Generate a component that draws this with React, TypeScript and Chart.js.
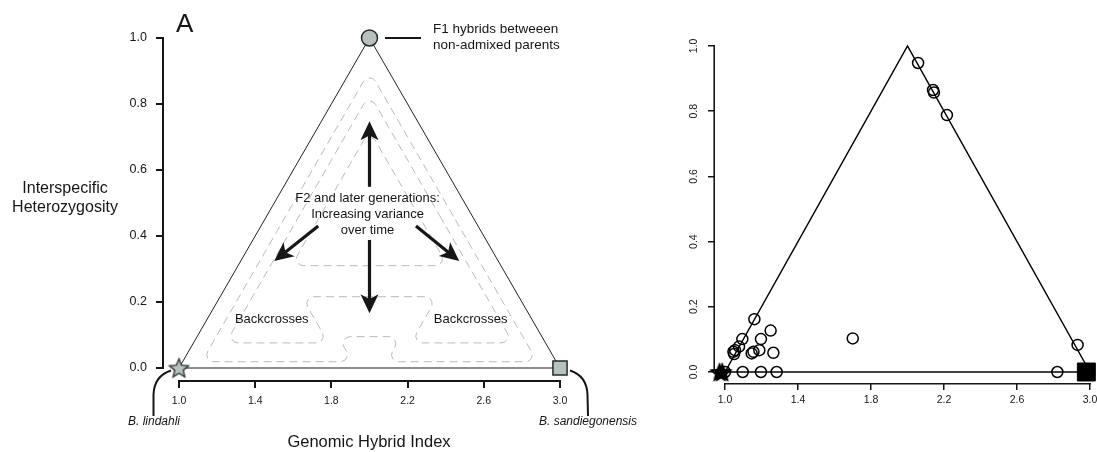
import React, { useEffect, useRef } from "react";
import { Chart, registerables } from "chart.js";

Chart.register(...registerables);

const FONT = "'Liberation Sans', Arial, Helvetica, sans-serif";
const INK = "#161616";

// ---------- shared axis ticks ----------
const X_TICKS = [1.0, 1.4, 1.8, 2.2, 2.6, 3.0];
const Y_TICKS = [0.0, 0.2, 0.4, 0.6, 0.8, 1.0];

// ---------- Panel A: expectation diagram ----------
const TRI_X = [1, 2, 3];
const TRI_Y = [0, 1, 0];
const BASE_X = [1, 3];
const BASE_Y = [0, 0];
const F1_X = [2];
const F1_Y = [1];
const LINDAHLI_X = [1];
const LINDAHLI_Y = [0];
const SANDIEGO_X = [3];
const SANDIEGO_Y = [0];

// dashed contour outlines (hybrid index, heterozygosity)
const CONTOUR_OUTER = [[2, 0.9], [1.119, 0.019], [1.911, 0.019], [1.835, 0.095], [2.165, 0.095], [2.089, 0.019], [2.881, 0.019]];
const CONTOUR_MIDDLE = [[2, 0.83], [1.246, 0.076], [1.784, 0.076], [1.644, 0.216], [2.356, 0.216], [2.216, 0.076], [2.754, 0.076]];
const CONTOUR_INNER = [[2, 0.72], [1.59, 0.31], [2.41, 0.31]];

// arrows: [x0, y0, x1, y1]
const ARROW_UP = [2.0, 0.549, 2.0, 0.748];
const ARROW_DOWN = [2.0, 0.388, 2.0, 0.166];
const ARROW_LEFT = [1.731, 0.43, 1.5, 0.324];
const ARROW_RIGHT = [2.244, 0.43, 2.471, 0.324];

// ---------- Panel B: observed hybrids ----------
const OBS_X = [2.058, 2.14, 2.145, 2.216, 1.161, 1.25, 1.095, 1.197, 1.7, 1.077, 1.055, 1.046, 1.05, 1.188, 1.146, 1.156, 1.265, 2.932, 1.0, 1.097, 1.197, 1.283, 2.821];
const OBS_Y = [0.948, 0.865, 0.857, 0.788, 0.162, 0.127, 0.101, 0.101, 0.103, 0.078, 0.067, 0.062, 0.055, 0.067, 0.057, 0.062, 0.059, 0.083, 0, 0, 0, 0, 0];
const P1_X = [0.97, 0.985];
const P1_Y = [0, 0];
const P2_X = [2.98];
const P2_Y = [0];
const B_BASE_X = [0.975, 3.0];
const B_BASE_Y = [0, 0];

const pts = (xs: number[], ys: number[]) => xs.map((x, i) => ({ x, y: ys[i] }));

function starImage(r: number, fill: string, stroke: string, lw: number) {
  const size = Math.ceil(2 * (r + lw + 1));
  const c = document.createElement("canvas");
  c.width = size;
  c.height = size;
  const g = c.getContext("2d")!;
  g.translate(size / 2, size / 2 + r * 0.08);
  g.beginPath();
  for (let i = 0; i < 10; i++) {
    const rad = i % 2 === 0 ? r : r * 0.45;
    const a = -Math.PI / 2 + (i * Math.PI) / 5;
    const px = rad * Math.cos(a);
    const py = rad * Math.sin(a);
    if (i === 0) g.moveTo(px, py);
    else g.lineTo(px, py);
  }
  g.closePath();
  g.fillStyle = fill;
  g.fill();
  if (lw > 0) {
    g.lineWidth = lw;
    g.strokeStyle = stroke;
    g.stroke();
  }
  return c;
}

function roundedPoly(ctx: CanvasRenderingContext2D, p: number[][], r: number) {
  const n = p.length;
  const mid = (a: number[], b: number[]) => [(a[0] + b[0]) / 2, (a[1] + b[1]) / 2];
  const m0 = mid(p[n - 1], p[0]);
  ctx.beginPath();
  ctx.moveTo(m0[0], m0[1]);
  for (let i = 0; i < n; i++) {
    const a = p[i];
    const m = mid(a, p[(i + 1) % n]);
    ctx.arcTo(a[0], a[1], m[0], m[1], r);
  }
  ctx.closePath();
  ctx.stroke();
}

function arrow(ctx: CanvasRenderingContext2D, x0: number, y0: number, x1: number, y1: number) {
  const headLen = 19;
  const headHalf = 9;
  const ang = Math.atan2(y1 - y0, x1 - x0);
  const c = Math.cos(ang);
  const s = Math.sin(ang);
  const bx = x1 - headLen * c;
  const by = y1 - headLen * s;
  ctx.lineWidth = 3.2;
  ctx.beginPath();
  ctx.moveTo(x0, y0);
  ctx.lineTo(x1 - headLen * 0.7 * c, y1 - headLen * 0.7 * s);
  ctx.stroke();
  ctx.beginPath();
  ctx.moveTo(x1, y1);
  ctx.lineTo(bx + headHalf * s, by - headHalf * c);
  ctx.lineTo(x1 - headLen * 0.75 * c, y1 - headLen * 0.75 * s);
  ctx.lineTo(bx - headHalf * s, by + headHalf * c);
  ctx.closePath();
  ctx.fill();
}

function tickScale(min: number, max: number, ticks: number[], size: number, horizontal: boolean, tickLen: number, lw: number, pad: number, fontSize: number, hideLabels = false) {
  return {
    type: "linear" as const,
    min,
    max,
    afterBuildTicks: (s: any) => {
      s.ticks = ticks.map((v) => ({ value: v }));
    },
    afterFit: (s: any) => {
      if (horizontal) s.height = size;
      else s.width = size;
      s.paddingLeft = 0;
      s.paddingRight = 0;
      s.paddingTop = 0;
      s.paddingBottom = 0;
    },
    border: { display: false },
    grid: { drawOnChartArea: false, drawTicks: true, tickLength: tickLen, color: INK, lineWidth: lw },
    ticks: {
      autoSkip: false,
      maxRotation: 0,
      minRotation: 0,
      padding: pad,
      color: hideLabels ? "rgba(0,0,0,0)" : INK,
      font: { family: FONT, size: fontSize },
      callback: (v: any) => Number(v).toFixed(1),
    },
  };
}

function drawAxisLines(chart: any, lw: number) {
  const { ctx, scales, chartArea } = chart;
  const x = scales.x;
  const y = scales.y;
  ctx.save();
  ctx.strokeStyle = INK;
  ctx.lineWidth = lw;
  ctx.lineCap = "butt";
  const ax = chartArea.left - lw / 2;
  ctx.beginPath();
  ctx.moveTo(ax, y.getPixelForValue(Y_TICKS[Y_TICKS.length - 1]) - lw / 2);
  ctx.lineTo(ax, y.getPixelForValue(Y_TICKS[0]) + lw / 2);
  ctx.stroke();
  const ay = chartArea.bottom + lw / 2;
  ctx.beginPath();
  ctx.moveTo(x.getPixelForValue(X_TICKS[0]) - lw / 2, ay);
  ctx.lineTo(x.getPixelForValue(X_TICKS[X_TICKS.length - 1]) + lw / 2, ay);
  ctx.stroke();
  ctx.restore();
}

const leftDecor = {
  id: "leftDecor",
  beforeDatasetsDraw(chart: any) {
    const { ctx, scales } = chart;
    const x = scales.x;
    const y = scales.y;
    ctx.save();
    ctx.strokeStyle = "#b3bcbc";
    ctx.lineWidth = 1;
    ctx.setLineDash([8, 5]);
    [CONTOUR_OUTER, CONTOUR_MIDDLE, CONTOUR_INNER].forEach((poly) =>
      roundedPoly(ctx, poly.map(([a, b]) => [x.getPixelForValue(a), y.getPixelForValue(b)]), 7)
    );
    ctx.restore();
  },
  afterDraw(chart: any) {
    const { ctx, scales } = chart;
    const x = scales.x;
    const y = scales.y;
    drawAxisLines(chart, 2);
    ctx.save();
    ctx.fillStyle = INK;
    ctx.strokeStyle = INK;
    [ARROW_UP, ARROW_DOWN, ARROW_LEFT, ARROW_RIGHT].forEach((a) =>
      arrow(ctx, x.getPixelForValue(a[0]), y.getPixelForValue(a[1]), x.getPixelForValue(a[2]), y.getPixelForValue(a[3]))
    );
    ctx.textBaseline = "alphabetic";
    ctx.textAlign = "left";
    ctx.font = `26px ${FONT}`;
    ctx.fillText("A", 176, 32);
    ctx.textAlign = "center";
    ctx.font = `16px ${FONT}`;
    ctx.fillText("Interspecific", 65, 193);
    ctx.fillText("Heterozygosity", 65, 211.5);
    ctx.font = `16.5px ${FONT}`;
    ctx.fillText("Genomic Hybrid Index", 369, 447);
    ctx.font = `italic 12px ${FONT}`;
    ctx.fillText("B. lindahli", 154, 425);
    ctx.fillText("B. sandiegonensis", 588, 425);
    const cx = x.getPixelForValue(1.99);
    ctx.font = `13px ${FONT}`;
    ctx.fillText("F2 and later generations:", cx, 202);
    ctx.fillText("Increasing variance", cx, 218);
    ctx.fillText("over time", cx, 234);
    ctx.fillText("Backcrosses", x.getPixelForValue(1.487), y.getPixelForValue(0.136));
    ctx.fillText("Backcrosses", x.getPixelForValue(2.531), y.getPixelForValue(0.136));
    ctx.textAlign = "left";
    ctx.font = `13.5px ${FONT}`;
    ctx.fillText("F1 hybrids betweeen", 433, 33);
    ctx.fillText("non-admixed parents", 433, 48.5);
    const fy = y.getPixelForValue(F1_Y[0]);
    ctx.lineWidth = 2;
    ctx.beginPath();
    ctx.moveTo(385, fy);
    ctx.lineTo(421, fy);
    ctx.stroke();
    ctx.beginPath();
    ctx.moveTo(171, 370.5);
    ctx.quadraticCurveTo(154, 376, 153.5, 395);
    ctx.lineTo(153.5, 416);
    ctx.stroke();
    ctx.beginPath();
    ctx.moveTo(570, 370.5);
    ctx.quadraticCurveTo(587, 376, 587.5, 395);
    ctx.lineTo(588, 416);
    ctx.stroke();
    ctx.restore();
  },
};

const rightDecor = {
  id: "rightDecor",
  afterDraw(chart: any) {
    const { ctx, scales } = chart;
    const y = scales.y;
    drawAxisLines(chart, 1.6);
    ctx.save();
    ctx.fillStyle = INK;
    ctx.font = `10.5px ${FONT}`;
    ctx.textAlign = "center";
    ctx.textBaseline = "middle";
    y.ticks.forEach((t: any) => {
      const py = y.getPixelForValue(t.value);
      ctx.save();
      ctx.translate(94, py);
      ctx.rotate(-Math.PI / 2);
      ctx.fillText(Number(t.value).toFixed(1), 0, 0);
      ctx.restore();
    });
    ctx.restore();
  },
};

const GRAY_FILL = "#b7c2bf";
const EDGE = "#2a2a2a";

function leftConfig(): any {
  const star = starImage(10, GRAY_FILL, EDGE, 1.3);
  return {
    type: "scatter",
    data: {
      datasets: [
        { data: pts(F1_X, F1_Y), pointStyle: "circle", pointRadius: 8, backgroundColor: GRAY_FILL, borderColor: EDGE, borderWidth: 1.5, clip: false, order: 1 },
        { data: pts(LINDAHLI_X, LINDAHLI_Y), pointStyle: star, pointRadius: 10, clip: false, order: 1 },
        { data: pts(SANDIEGO_X, SANDIEGO_Y), pointStyle: "rect", pointRadius: 10, backgroundColor: GRAY_FILL, borderColor: EDGE, borderWidth: 1.5, clip: false, order: 1 },
        { data: pts(TRI_X, TRI_Y), showLine: true, borderColor: "#222", borderWidth: 1, pointRadius: 0, clip: false, order: 3 },
        { data: pts(BASE_X, BASE_Y), showLine: true, borderColor: "#8d8d8d", borderWidth: 2, pointRadius: 0, clip: false, order: 2 },
      ],
    },
    options: {
      animation: false,
      responsive: false,
      maintainAspectRatio: false,
      devicePixelRatio: 1,
      events: [],
      layout: { autoPadding: false, padding: { top: 30, right: 80, left: 0, bottom: 0 } },
      plugins: { legend: { display: false }, tooltip: { enabled: false } },
      scales: {
        x: tickScale(0.9213, 3.105, X_TICKS, 72, true, 8, 2, 7, 10.5),
        y: tickScale(-0.03636, 1.0242, Y_TICKS, 164, false, 8, 2, 9, 12.5),
      },
    },
    plugins: [leftDecor],
  };
}

function rightConfig(): any {
  const star = starImage(11, "#000", "#000", 0);
  return {
    type: "scatter",
    data: {
      datasets: [
        { data: pts(P1_X, P1_Y), pointStyle: star, pointRadius: 11, clip: false, order: 1 },
        { data: pts(P2_X, P2_Y), pointStyle: "rect", pointRadius: 12.7, backgroundColor: "#000", borderColor: "#000", borderWidth: 1, clip: false, order: 1 },
        { data: pts(OBS_X, OBS_Y), pointStyle: "circle", pointRadius: 5.5, backgroundColor: "rgba(0,0,0,0)", borderColor: "#000", borderWidth: 1.5, clip: false, order: 2 },
        { data: pts(TRI_X, TRI_Y), showLine: true, borderColor: "#000", borderWidth: 1.5, pointRadius: 0, clip: false, order: 3 },
        { data: pts(B_BASE_X, B_BASE_Y), showLine: true, borderColor: "#000", borderWidth: 1.5, pointRadius: 0, clip: false, order: 3 },
      ],
    },
    options: {
      animation: false,
      responsive: false,
      maintainAspectRatio: false,
      devicePixelRatio: 1,
      events: [],
      layout: { autoPadding: false, padding: { top: 30, right: 2, left: 0, bottom: 0 } },
      plugins: { legend: { display: false }, tooltip: { enabled: false } },
      scales: {
        x: tickScale(0.9452, 3.0274, X_TICKS, 69, true, 7, 1.5, 4, 10.5),
        y: tickScale(-0.03374, 1.0491, Y_TICKS, 115, false, 7, 1.5, 4, 10.5, true),
      },
    },
    plugins: [rightDecor],
  };
}

export default function App() {
  const leftRef = useRef<HTMLCanvasElement>(null);
  const rightRef = useRef<HTMLCanvasElement>(null);
  useEffect(() => {
    const left = new Chart(leftRef.current!, leftConfig());
    const right = new Chart(rightRef.current!, rightConfig());
    return () => {
      left.destroy();
      right.destroy();
    };
  }, []);
  return (
    <div style={{ position: "fixed", left: 0, top: 0, width: 1097, height: 452, background: "#fff", overflow: "hidden" }}>
      <canvas ref={leftRef} width={660} height={452} style={{ position: "absolute", left: 0, top: 0, width: 660, height: 452 }} />
      <canvas ref={rightRef} width={497} height={452} style={{ position: "absolute", left: 600, top: 0, width: 497, height: 452 }} />
    </div>
  );
}
